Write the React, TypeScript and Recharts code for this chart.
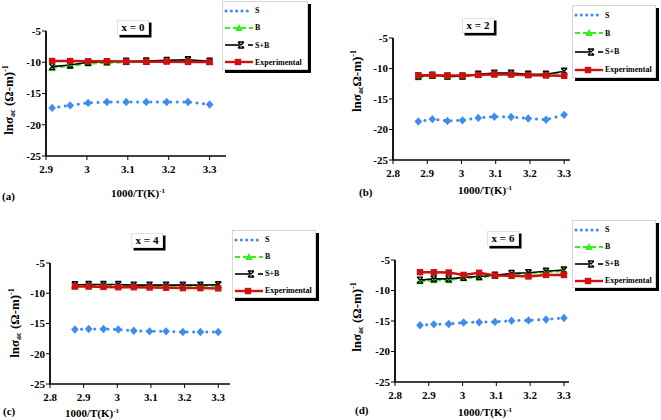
import React from 'react'
import { LineChart, Line, XAxis, YAxis } from 'recharts'

const FONT = '"Liberation Serif", "Times New Roman", serif'
const BLUE = '#3f8cf0'
const GREEN = '#33ee22'
const BLACK = '#000000'
const RED = '#cc1111'

// 1000/T, T = 343..303 K for (a), 348..303 K for (b)-(d)
const xA = [2.915, 2.959, 3.003, 3.049, 3.096, 3.145, 3.195, 3.247, 3.3]
const xBCD = [2.874, 2.915, 2.959, 3.003, 3.049, 3.096, 3.145, 3.195, 3.247, 3.3]

const yTicks = [-25, -20, -15, -10, -5]
const xTicksA = [2.9, 3, 3.1, 3.2, 3.3]
const xTicksBCD = [2.8, 2.9, 3, 3.1, 3.2, 3.3]

// x = 0
const sA = [-17.3, -16.9, -16.5, -16.35, -16.35, -16.35, -16.35, -16.35, -16.75]
const bA = [-10.9, -10.6, -10.2, -10.1, -10.0, -9.95, -9.8, -9.7, -10.0]
const sbA = [-10.7, -10.45, -10.0, -9.9, -9.85, -9.8, -9.7, -9.6, -9.85]
const expA = [-9.8, -9.8, -9.85, -9.85, -9.9, -9.9, -9.9, -9.95, -9.95]

// x = 2
const sB = [-18.7, -18.3, -18.6, -18.5, -18.1, -17.9, -17.95, -18.2, -18.4, -17.6]
const bB = [-11.45, -11.15, -11.35, -11.35, -11.05, -10.85, -10.85, -11.0, -11.05, -10.65]
const sbB = [-11.25, -11.1, -11.25, -11.25, -10.95, -10.75, -10.75, -10.95, -10.95, -10.45]
const expB = [-11.1, -11.1, -11.15, -11.15, -11.05, -11.0, -11.0, -11.1, -11.15, -11.2]

// x = 4
const sC = [-16.0, -15.9, -15.9, -16.0, -16.2, -16.3, -16.3, -16.4, -16.4, -16.4]
const bC = [-8.75, -8.7, -8.7, -8.7, -8.75, -8.75, -8.75, -8.75, -8.75, -8.75]
const sbC = [-8.6, -8.55, -8.55, -8.55, -8.65, -8.65, -8.65, -8.65, -8.65, -8.6]
const expC = [-8.9, -8.9, -8.95, -9.0, -9.0, -9.05, -9.1, -9.15, -9.15, -9.2]

// x = 6
const sD = [-15.7, -15.55, -15.5, -15.25, -15.2, -15.15, -14.95, -14.9, -14.75, -14.5]
const bD = [-8.5, -8.3, -8.3, -8.0, -7.85, -7.6, -7.35, -7.25, -7.0, -6.8]
const sbD = [-8.3, -8.1, -8.1, -7.85, -7.7, -7.5, -7.2, -7.1, -6.85, -6.65]
const expD = [-7.0, -7.0, -7.05, -7.45, -7.1, -7.55, -7.6, -7.7, -7.45, -7.45]

const legendNames = ['S', 'B', 'S+B', 'Experimental']

const diamond = (cx: number, cy: number, key?: any) => (
  <path key={key} d={`M${cx},${cy - 4.2}L${cx + 3.8},${cy}L${cx},${cy + 4.2}L${cx - 3.8},${cy}Z`} fill={BLUE} />
)
const triangle = (cx: number, cy: number, key?: any) => (
  <path key={key} d={`M${cx},${cy - 4}L${cx + 3.8},${cy + 3}L${cx - 3.8},${cy + 3}Z`} fill={GREEN} />
)
const cross = (cx: number, cy: number, key?: any) => (
  <path key={key} d={`M${cx - 3},${cy - 3}L${cx + 3},${cy + 3}M${cx + 3},${cy - 3}L${cx - 3},${cy + 3}M${cx - 3},${cy - 3}H${cx + 3}M${cx - 3},${cy + 3}H${cx + 3}`}
    stroke={BLACK} strokeWidth={1.4} fill="none" />
)
const square = (cx: number, cy: number, key?: any) => (
  <rect key={key} x={cx - 3.2} y={cy - 3.2} width={6.4} height={6.4} fill={RED} />
)

const dotOf = (fn: typeof diamond) => (p: any) =>
  p.cx == null ? <g key={p.index} /> : fn(p.cx, p.cy, p.index)

const tickStyle = { fontFamily: FONT, fontWeight: 'bold' as const, fontSize: 11, fill: '#000' }

function LegendBox({ left, top, width, height }: { left: number; top: number; width: number; height: number }) {
  const rowH = height / 4
  const samples = [
    <g>
      <line x1={3} x2={29} y1={5} y2={5} stroke={BLUE} strokeWidth={3} strokeDasharray="0.1 5.2" strokeLinecap="round" />
    </g>,
    <g>
      <line x1={2} x2={30} y1={5} y2={5} stroke={GREEN} strokeWidth={2} strokeDasharray="5 3" />
      {triangle(16, 5)}
    </g>,
    <g>
      <line x1={2} x2={17} y1={5} y2={5} stroke={BLACK} strokeWidth={1.6} />
      {cross(18, 5)}
      <line x1={25} x2={30} y1={5} y2={5} stroke={BLACK} strokeWidth={1.6} />
    </g>,
    <g>
      <line x1={2} x2={30} y1={5} y2={5} stroke={RED} strokeWidth={2.4} />
      {square(15, 5)}
    </g>,
  ]
  return (
    <div style={{
      position: 'absolute', left, top, width, height, background: '#fff',
      border: '1px solid #d6d6d6', boxShadow: '3px 3px 0 #000', boxSizing: 'border-box',
    }}>
      {legendNames.map((n, i) => (
        <div key={n} style={{ position: 'absolute', left: 0, top: i * rowH + rowH / 2 - 5, height: 10, display: 'flex', alignItems: 'center' }}>
          <svg width={32} height={10}>{samples[i]}</svg>
          <span style={{ fontFamily: FONT, fontWeight: 'bold', fontSize: 8, whiteSpace: 'nowrap' }}>{n}</span>
        </div>
      ))}
    </div>
  )
}

function TitleBox({ left, top, text }: { left: number; top: number; text: string }) {
  return (
    <div style={{
      position: 'absolute', left, top, width: 32, height: 15, background: '#fff',
      border: '1px solid #e2e2e2', boxShadow: '2.5px 2.5px 0 #000', boxSizing: 'border-box',
      fontFamily: FONT, fontWeight: 'bold', fontSize: 11, lineHeight: '13px', textAlign: 'center',
    }}>{text}</div>
  )
}

function YTitle({ cx, cy, typo }: { cx: number; cy: number; typo?: boolean }) {
  return (
    <div style={{
      position: 'absolute', left: cx, top: cy, transform: 'translate(-50%, -50%) rotate(-90deg)',
      fontFamily: FONT, fontWeight: 'bold', fontSize: 13, whiteSpace: 'nowrap', lineHeight: '14px',
    }}>
      lnσ<sub style={{ fontSize: 8, verticalAlign: '-2px' }}>ac</sub>{typo ? 'Ω-m)' : ' (Ω-m)'}
      <sup style={{ fontSize: 8, verticalAlign: '5px' }}>-1</sup>
    </div>
  )
}

function XTitle({ cx, cy }: { cx: number; cy: number }) {
  return (
    <div style={{
      position: 'absolute', left: cx, top: cy, transform: 'translate(-50%, -50%)',
      fontFamily: FONT, fontWeight: 'bold', fontSize: 11, whiteSpace: 'nowrap', lineHeight: '12px',
    }}>
      1000/T(K)<sup style={{ fontSize: 7, verticalAlign: '4px' }}>-1</sup>
    </div>
  )
}

function PanelTag({ left, cy, text }: { left: number; cy: number; text: string }) {
  return (
    <div style={{
      position: 'absolute', left, top: cy - 6, fontFamily: FONT, fontWeight: 'bold', fontSize: 11, lineHeight: '12px',
    }}>{text}</div>
  )
}

interface PanelProps {
  left: number; top: number; width: number; height: number
  plot: { l: number; r: number; t: number; b: number }
  xDomain: [number, number]; xTicks: number[]
  xs: number[]; s: number[]; b: number[]; sb: number[]; exp: number[]
}

function Panel({ left, top, width, height, plot, xDomain, xTicks, xs, s, b, sb, exp }: PanelProps) {
  const rows = xs.map((x, i) => ({ x, s: s[i], b: b[i], sb: sb[i], exp: exp[i] }))
  return (
    <div style={{ position: 'absolute', left, top }}>
      <LineChart width={width} height={height} data={rows}
        margin={{ top: plot.t, right: width - plot.r, bottom: 0, left: 0 }}>
        <XAxis type="number" dataKey="x" domain={xDomain} ticks={xTicks} interval={0}
          height={height - plot.b} tick={tickStyle} tickSize={4} tickMargin={5}
          axisLine={{ stroke: '#000', strokeWidth: 1.6 }} tickLine={{ stroke: '#000' }}
          tickFormatter={(v: number) => String(v)} />
        <YAxis type="number" domain={[-25, -5]} ticks={yTicks} interval={0}
          width={plot.l} tick={tickStyle} tickSize={4} tickMargin={1}
          axisLine={{ stroke: '#000', strokeWidth: 1.8 }} tickLine={{ stroke: '#000' }} />
        <Line dataKey="s" stroke={BLUE} strokeWidth={3} strokeDasharray="0.1 6.5" strokeLinecap="round"
          dot={dotOf(diamond)} isAnimationActive={false} />
        <Line dataKey="b" stroke={GREEN} strokeWidth={2} strokeDasharray="5 3"
          dot={dotOf(triangle)} isAnimationActive={false} />
        <Line dataKey="sb" stroke={BLACK} strokeWidth={1.6}
          dot={dotOf(cross)} isAnimationActive={false} />
        <Line dataKey="exp" stroke={RED} strokeWidth={2.5}
          dot={dotOf(square)} isAnimationActive={false} />
      </LineChart>
    </div>
  )
}

export default function App() {
  return (
    <div style={{ position: 'fixed', left: 0, top: 0, width: 661, height: 420, background: '#fff', overflow: 'hidden' }}>
      <Panel left={0} top={0} width={330} height={210} plot={{ l: 46, r: 226, t: 31, b: 156 }}
        xDomain={[2.9, 3.34]} xTicks={xTicksA} xs={xA} s={sA} b={bA} sb={sbA} exp={expA} />
      <Panel left={330} top={0} width={331} height={210} plot={{ l: 63, r: 240, t: 38, b: 160 }}
        xDomain={[2.8, 3.317]} xTicks={xTicksBCD} xs={xBCD} s={sB} b={bB} sb={sbB} exp={expB} />
      <Panel left={0} top={210} width={330} height={210} plot={{ l: 50, r: 230, t: 53, b: 174 }}
        xDomain={[2.8, 3.335]} xTicks={xTicksBCD} xs={xBCD} s={sC} b={bC} sb={sbC} exp={expC} />
      <Panel left={330} top={210} width={331} height={210} plot={{ l: 65, r: 239, t: 50, b: 172 }}
        xDomain={[2.8, 3.315]} xTicks={xTicksBCD} xs={xBCD} s={sD} b={bD} sb={sbD} exp={expD} />

      <TitleBox left={117} top={20} text="x = 0" />
      <TitleBox left={462} top={18} text="x = 2" />
      <TitleBox left={131} top={233} text="x = 4" />
      <TitleBox left={487} top={231} text="x = 6" />

      <LegendBox left={222} top={1} width={86} height={69} />
      <LegendBox left={572} top={5} width={84} height={73} />
      <LegendBox left={232} top={230} width={84} height={68} />
      <LegendBox left={572} top={220} width={84} height={68} />

      <YTitle cx={9} cy={100} />
      <YTitle cx={357} cy={81} typo />
      <YTitle cx={15} cy={323} />
      <YTitle cx={357} cy={317} />

      <XTitle cx={138} cy={192} />
      <XTitle cx={485} cy={189} />
      <XTitle cx={92} cy={412} />
      <XTitle cx={485} cy={411} />

      <PanelTag left={2} cy={196} text="(a)" />
      <PanelTag left={359} cy={192} text="(b)" />
      <PanelTag left={3} cy={411} text="(c)" />
      <PanelTag left={355} cy={410} text="(d)" />
    </div>
  )
}
